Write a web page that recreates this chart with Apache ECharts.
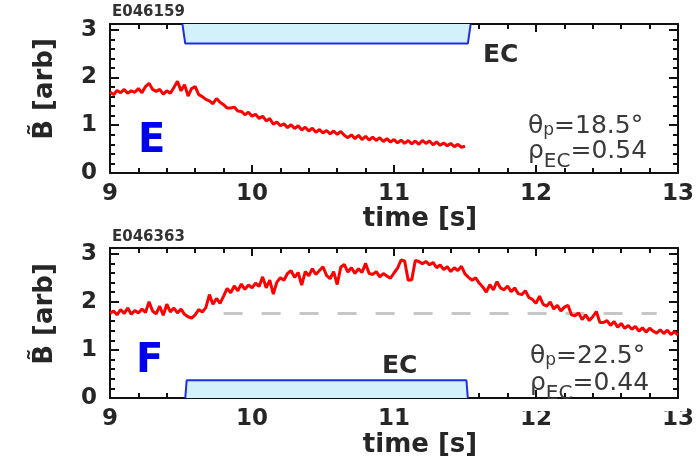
<!DOCTYPE html>
<html>
<head>
<meta charset="utf-8">
<script src="https://cdn.jsdelivr.net/npm/echarts@6/dist/echarts.min.js"></script>
<style>
  html, body { margin: 0; padding: 0; background: #fff; }
  #chart { width: 697px; height: 462px; }
</style>
</head>
<body>
<div id="chart"></div>
<script>
// Fluctuation amplitude traces, sampled every 25 ms from t = 9 s
const sampleStart = 9.0;
const sampleStep = 0.025;

// Shot E046159 (9.000 s .. 11.500 s)
const ampE = [
  1.70, 1.64, 1.73, 1.68, 1.75, 1.67, 1.72, 1.69, 1.77, 1.68,
  1.81, 1.88, 1.75, 1.71, 1.75, 1.65, 1.72, 1.67, 1.79, 1.92,
  1.72, 1.85, 1.61, 1.77, 1.81, 1.64, 1.60, 1.54, 1.51, 1.45,
  1.56, 1.48, 1.43, 1.36, 1.36, 1.38, 1.30, 1.29, 1.22, 1.27,
  1.19, 1.23, 1.14, 1.19, 1.09, 1.14, 1.02, 1.07, 0.99, 1.03,
  0.95, 1.01, 0.93, 0.99, 0.90, 0.96, 0.88, 0.94, 0.85, 0.91,
  0.84, 0.89, 0.82, 0.88, 0.81, 0.87, 0.79, 0.74, 0.80, 0.72,
  0.79, 0.70, 0.77, 0.69, 0.75, 0.68, 0.74, 0.66, 0.72, 0.65,
  0.70, 0.63, 0.69, 0.62, 0.68, 0.61, 0.67, 0.60, 0.68, 0.62,
  0.67, 0.59, 0.65, 0.58, 0.63, 0.57, 0.62, 0.55, 0.60, 0.54,
  0.56
];

// Shot E046363 (9.000 s .. 13.000 s)
const ampF = [
  1.76, 1.81, 1.73, 1.84, 1.76, 1.87, 1.74, 1.82, 1.77, 1.85,
  1.78, 2.00, 1.81, 1.75, 1.91, 1.72, 1.95, 1.79, 1.87, 1.77,
  1.85, 1.74, 1.69, 1.66, 1.73, 1.84, 1.79, 1.88, 2.15, 1.95,
  2.07, 1.97, 2.12, 2.28, 2.19, 2.33, 2.23, 2.37, 2.26, 2.35,
  2.29, 2.39, 2.32, 2.52, 2.29, 2.45, 2.16, 2.41, 2.50, 2.45,
  2.59, 2.65, 2.51, 2.61, 2.35, 2.63, 2.54, 2.69, 2.57, 2.65,
  2.73, 2.55, 2.48, 2.63, 2.36, 2.72, 2.78, 2.62, 2.71, 2.59,
  2.69, 2.61, 2.80, 2.59, 2.57, 2.63, 2.52, 2.59, 2.54, 2.49,
  2.60, 2.70, 2.87, 2.85, 2.45, 2.46, 2.86, 2.84, 2.79, 2.84,
  2.77, 2.82, 2.71, 2.77, 2.67, 2.73, 2.63, 2.71, 2.65, 2.74,
  2.58, 2.51, 2.45, 2.50, 2.39, 2.31, 2.20, 2.36, 2.25, 2.42,
  2.29, 2.25, 2.33, 2.21, 2.29, 2.17, 2.15, 2.23, 2.09, 2.05,
  1.97, 2.12, 1.95, 1.91, 2.00, 1.85, 1.93, 1.81, 1.89, 1.93,
  1.73, 1.71, 1.77, 1.63, 1.73, 1.61, 1.69, 1.80, 1.57, 1.57,
  1.61, 1.51, 1.59, 1.47, 1.55, 1.45, 1.51, 1.43, 1.49, 1.39,
  1.46, 1.37, 1.45, 1.39, 1.35, 1.42, 1.34, 1.41, 1.32, 1.38,
  1.31
];

// EC heating window outlines
const ecTimeE = [9.51, 9.53, 11.52, 11.54];
const ecLevelE = [3.12, 2.71, 2.71, 3.12];
const ecTimeF = [9.53, 9.54, 11.51, 11.52];
const ecLevelF = [0, 0.37, 0.37, 0];

// Pre-heating reference level for shot E046363
const refTimeF = [9.8, 12.85];
const refLevelF = [1.76, 1.76];

// Axis ranges and texts
const timeRange = [9, 13];
const ampRange = [0, 3.12];
const ampLabels = ['0', '1', '2', '3'];
const shotIds = ['E046159', 'E046363'];
const panelTags = ['E', 'F'];
const thetaP = ['18.5', '22.5'];
const rhoEC = ['0.54', '0.44'];

const INK = '#111';
const TXT = '#262626';
const FONT = '"DejaVu Sans", sans-serif';

const pairs = (xs, ys) => xs.map((x, i) => [x, ys[i]]);
const trace = (vals) => vals.map((v, i) => [+(sampleStart + i * sampleStep).toFixed(3), v]);

function timeAxis(grid, pos, labels) {
  return {
    type: 'value', gridIndex: grid, position: pos,
    min: timeRange[0], max: timeRange[1], interval: 1,
    axisLine: { show: true, onZero: false, lineStyle: { color: INK, width: 2 } },
    axisTick: { show: true, inside: true, length: 8, lineStyle: { color: INK, width: 2 } },
    minorTick: { show: true, splitNumber: 5, length: 5, lineStyle: { color: INK, width: 2 } },
    splitLine: { show: false }, minorSplitLine: { show: false },
    axisLabel: { show: labels, fontFamily: FONT, fontWeight: 'bold', fontSize: 23, color: TXT, margin: 10 }
  };
}

// fine axis: frame line, 0.2 ticks and integer labels; coarse axis: longer integer ticks
function ampAxis(grid, pos, fine, labels) {
  return {
    type: 'value', gridIndex: grid, position: pos,
    min: ampRange[0], max: ampRange[1], interval: fine ? 0.2 : 1,
    axisLine: { show: fine, onZero: false, lineStyle: { color: INK, width: 2 } },
    axisTick: { show: true, inside: true, length: fine ? 5 : 9, lineStyle: { color: INK, width: 2 } },
    splitLine: { show: false },
    axisLabel: {
      show: labels, showMaxLabel: false, fontFamily: FONT, fontWeight: 'bold', fontSize: 23,
      color: TXT, margin: 13,
      formatter: (v) => {
        const k = Math.round(v);
        return Math.abs(v - k) < 1e-6 && ampLabels[k] !== undefined ? ampLabels[k] : '';
      }
    }
  };
}

const grids = [
  { left: 110, top: 24, width: 578, height: 149 },
  { left: 110, top: 248, width: 578, height: 150 }
];

const xAxes = [], yAxes = [];
grids.forEach((g, gi) => {
  xAxes.push(timeAxis(gi, 'bottom', true), timeAxis(gi, 'top', false));
  yAxes.push(ampAxis(gi, 'left', true, true), ampAxis(gi, 'left', false, false),
             ampAxis(gi, 'right', true, false), ampAxis(gi, 'right', false, false));
});

const series = [
  {
    type: 'line', xAxisIndex: 0, yAxisIndex: 0, data: pairs(ecTimeE, ecLevelE),
    symbol: 'none', lineStyle: { color: '#1f2fe0', width: 2 },
    areaStyle: { origin: 'end', color: '#d3f1fb', opacity: 1 }, z: 1
  },
  {
    type: 'line', xAxisIndex: 0, yAxisIndex: 0, data: trace(ampE),
    symbol: 'none', lineStyle: { color: '#ff0000', width: 3 }, z: 3
  },
  {
    type: 'line', xAxisIndex: 2, yAxisIndex: 4, data: pairs(ecTimeF, ecLevelF),
    symbol: 'none', lineStyle: { color: '#1f2fe0', width: 2 },
    areaStyle: { origin: 'start', color: '#d3f1fb', opacity: 1 }, z: 1
  },
  {
    type: 'line', xAxisIndex: 2, yAxisIndex: 4, data: pairs(refTimeF, refLevelF),
    symbol: 'none', lineStyle: { color: '#c6c6c6', width: 3, type: [19, 19] }, z: 2
  },
  {
    type: 'line', xAxisIndex: 2, yAxisIndex: 4, data: trace(ampF),
    symbol: 'none', lineStyle: { color: '#ff0000', width: 3 }, z: 3
  }
];

// Text runs with subscripts, laid out left to right by measured width
const measure = document.createElement('canvas').getContext('2d');
function run(x, baseline, parts) {
  const out = [];
  let cx = x;
  parts.forEach(([s, size, dy]) => {
    const font = `${size}px ${FONT}`;
    measure.font = font;
    out.push({
      type: 'text', x: cx, y: baseline + dy - 0.346 * size, z: 50,
      style: { text: s, font: font, fill: '#3a3a3a', align: 'left', verticalAlign: 'middle' }
    });
    cx += measure.measureText(s).width;
  });
  return out;
}

const label = (x, y, text, size, opts = {}) => ({
  type: 'text', x, y, z: 50, rotation: opts.rotation || 0,
  style: {
    text, font: `${opts.weight || 'bold'} ${size}px ${FONT}`, fill: opts.fill || TXT,
    align: opts.align || 'left', verticalAlign: 'middle'
  }
});

const graphic = [
  label(112, 12, shotIds[0], 15, { fill: '#333' }),
  label(112, 237, shotIds[1], 15, { fill: '#333' }),
  label(45, 89, 'B\u0303 [arb]', 26, { align: 'center', rotation: Math.PI / 2 }),
  label(45, 314, 'B\u0303 [arb]', 26, { align: 'center', rotation: Math.PI / 2 }),
  label(420, 219, 'time [s]', 26, { align: 'center' }),
  label(420, 445, 'time [s]', 26, { align: 'center' }),
  label(483, 55, 'EC', 25, { fill: '#2a2a2a' }),
  label(382, 366, 'EC', 25, { fill: '#2a2a2a' }),
  label(138, 142, panelTags[0], 40, { fill: '#0000f0' }),
  label(136, 362, panelTags[1], 40, { fill: '#0000f0' }),
  ...run(528, 135, [['\u03b8', 25, 0], ['p', 17, 1], ['=' + thetaP[0] + '\u00b0', 25, 0]]),
  ...run(528, 160, [['\u03c1', 25, 0], ['EC', 20, 9], ['=' + rhoEC[0], 25, 0]]),
  ...run(530, 365, [['\u03b8', 25, 0], ['p', 17, 1], ['=' + thetaP[1] + '\u00b0', 25, 0]]),
  ...run(530, 392, [['\u03c1', 25, 0], ['EC', 20, 9], ['=' + rhoEC[1], 25, 0]]),
  // mask below the lower frame so the subscript does not spill out
  { type: 'rect', z: 60, shape: { x: 515, y: 400, width: 172, height: 11 }, style: { fill: '#fff' } }
];

const chart = echarts.init(document.getElementById('chart'), null, { renderer: 'canvas' });
chart.setOption({
  animation: false,
  backgroundColor: '#fff',
  grid: grids,
  xAxis: xAxes,
  yAxis: yAxes,
  series: series,
  graphic: graphic
});
</script>
</body>
</html>
